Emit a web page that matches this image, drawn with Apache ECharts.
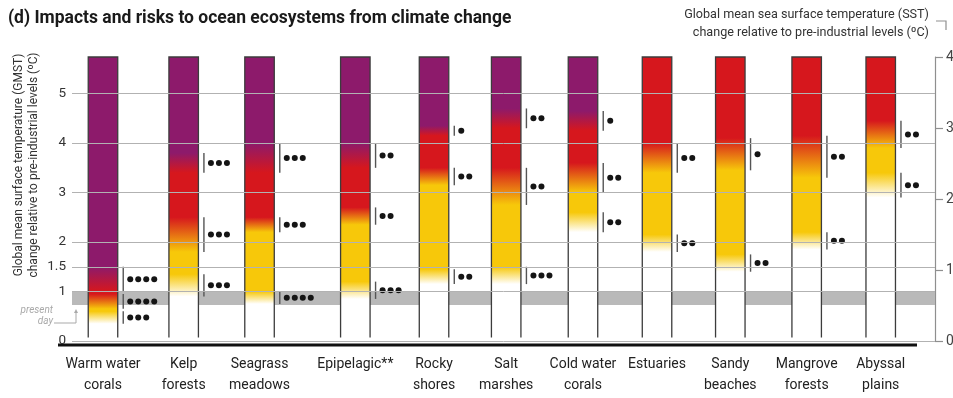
<!DOCTYPE html>
<html>
<head>
<meta charset="utf-8">
<script src="https://cdn.jsdelivr.net/npm/echarts@6/dist/echarts.min.js"></script>
<style>
  html, body { margin: 0; padding: 0; background: #ffffff; }
  #chart { width: 953px; height: 398px; }
</style>
</head>
<body>
<div id="chart"></div>
<script>
// Ocean ecosystems assessed
const ecosystems = ['Warm water\ncorals', 'Kelp\nforests', 'Seagrass\nmeadows', 'Epipelagic**', 'Rocky\nshores',
  'Salt\nmarshes', 'Cold water\ncorals', 'Estuaries', 'Sandy\nbeaches', 'Mangrove\nforests', 'Abyssal\nplains'];

// Risk transition ranges, GMST change in °C: [lower, upper]; null = no transition assessed
const undetectableToModerate = [[0.35, 0.6], [0.9, 1.35], [0.75, 1.0], [0.85, 1.2], [1.15, 1.45], [1.15, 1.5],
  [2.2, 2.6], [1.8, 2.15], [1.4, 1.75], [1.85, 2.2], [2.9, 3.4]];
const moderateToHigh = [[0.65, 0.95], [1.8, 2.5], [2.2, 2.5], [2.35, 2.7], [3.15, 3.5], [2.75, 3.5],
  [3.0, 3.6], [3.4, 4.0], [3.45, 4.1], [3.3, 4.15], [3.9, 4.45]];
const highToVeryHigh = [[1.0, 1.5], [3.4, 3.8], [3.4, 4.0], [3.5, 4.0], [4.15, 4.35], [4.3, 4.7],
  [4.25, 4.65], null, null, null, null];

// Confidence level of each transition (number of dots)
const confidenceUM = [3, 3, 4, 3, 2, 3, 2, 2, 2, 2, 2];
const confidenceMH = [4, 3, 3, 2, 2, 2, 2, 2, 1, 2, 2];
const confidenceHV = [4, 3, 3, 2, 1, 2, 1, null, null, null, null];

// Axes
const gmstTickLabels = [0, 1, 1.5, 2, 3, 4, 5];
const gmstGridLines = [0, 1, 1.5, 2, 3, 4, 5];
const sstTickLabels = [0, 1, 2, 3, 4];
const gmstMax = 5.74;               // 4 °C SST on the right-hand scale
const presentDay = [0.73, 1.0];     // grey present-day band

// Layout (not data): column centres along a 0–100 x scale, column size
const COLUMN_POS = [3.59, 12.94, 21.73, 32.83, 41.95, 50.31, 59.21, 67.79, 76.28, 85.13, 93.71];
const COLUMN_WIDTH = 29.5;
const COLUMN_BASE = 0.07;

const WHITE = '#ffffff', YELLOW = '#f7c80a', RED = '#d6171d', PURPLE = '#8d1a6b';
const FONT = 'Roboto, "Liberation Sans", sans-serif';

function columnGradient(i) {
  // value/colour pairs from the bottom of the column upward
  const pts = [[COLUMN_BASE, WHITE]];
  let top = WHITE;
  const steps = [[undetectableToModerate[i], WHITE, YELLOW], [moderateToHigh[i], YELLOW, RED], [highToVeryHigh[i], RED, PURPLE]];
  steps.forEach(([range, from, to]) => {
    if (!range) return;
    pts.push([range[0], from], [range[1], to]);
    top = to;
  });
  pts.push([gmstMax, top]);
  const span = gmstMax - COLUMN_BASE;
  const stops = pts.map(([v, c]) => ({ offset: Math.min(1, Math.max(0, (gmstMax - v) / span)), color: c }));
  stops.sort((a, b) => a.offset - b.offset);
  return { type: 'linear', x: 0, y: 0, x2: 0, y2: 1, colorStops: stops };
}

function renderColumn(params, api) {
  const i = api.value(1);
  const xc = api.coord([COLUMN_POS[i], 0])[0];
  const yTop = api.coord([COLUMN_POS[i], gmstMax])[1];
  const yBase = api.coord([COLUMN_POS[i], COLUMN_BASE])[1];
  const yZero = api.coord([COLUMN_POS[i], 0])[1];
  const l = xc - COLUMN_WIDTH / 2, r = xc + COLUMN_WIDTH / 2;
  const children = [
    { type: 'rect', shape: { x: l, y: yTop, width: COLUMN_WIDTH, height: yBase - yTop },
      style: { fill: columnGradient(i) } },
    { type: 'polyline', shape: { points: [[l, yBase], [l, yTop], [r, yTop], [r, yBase]] },
      style: { fill: null, stroke: '#3c3c3c', lineWidth: 1.3 } }
  ];
  const brackets = [[undetectableToModerate[i], confidenceUM[i]], [moderateToHigh[i], confidenceMH[i]], [highToVeryHigh[i], confidenceHV[i]]];
  brackets.forEach(([range, conf]) => {
    if (!range || !conf) return;
    const y1 = api.coord([COLUMN_POS[i], range[1]])[1];
    const y2 = api.coord([COLUMN_POS[i], range[0]])[1];
    const lx = r + 5.5;
    children.push({ type: 'line', shape: { x1: lx, y1: y1, x2: lx, y2: y2 },
      style: { stroke: '#555555', lineWidth: 1.4 } });
    for (let k = 0; k < conf; k++) {
      children.push({ type: 'circle', shape: { cx: lx + 7 + k * 8, cy: (y1 + y2) / 2, r: 3 },
        style: { fill: '#151515' } });
    }
  });
  children.push({ type: 'text', x: xc, y: yZero + 13,
    style: { text: ecosystems[i], fill: '#222222', font: '14px ' + FONT, align: 'center', verticalAlign: 'top', lineHeight: 21 } });
  return { type: 'group', children: children };
}

const chart = echarts.init(document.getElementById('chart'), null, { renderer: 'canvas' });

chart.setOption({
  animation: false,
  backgroundColor: '#ffffff',
  grid: { left: 72, right: 18, top: 57, bottom: 57, outerBoundsMode: 'none', containLabel: false },
  xAxis: { type: 'value', min: 0, max: 100, show: false },
  yAxis: [
    {
      type: 'value', min: 0, max: gmstMax, interval: 0.5,
      axisLine: { show: false }, axisTick: { show: false }, splitLine: { show: false },
      axisLabel: {
        color: '#333333', fontSize: 13.5, fontFamily: FONT, margin: 6, showMaxLabel: false,
        formatter: v => (gmstTickLabels.indexOf(Math.round(v * 100) / 100) >= 0 ? String(Math.round(v * 100) / 100) : '')
      }
    },
    {
      type: 'value', min: 0, max: 4, interval: 1, position: 'right',
      axisLine: { show: true, lineStyle: { color: '#8f8f8f', width: 1.2 } },
      axisTick: { show: true, length: 8, lineStyle: { color: '#8f8f8f', width: 1.2 } },
      splitLine: { show: false },
      axisLabel: { color: '#444444', fontSize: 14, fontFamily: FONT, margin: 11,
        formatter: v => (sstTickLabels.indexOf(v) >= 0 ? String(v) : '') }
    }
  ],
  series: [
    {
      type: 'line', data: [], yAxisIndex: 0, z: 1, silent: true,
      markLine: {
        silent: true, symbol: ['none', 'none'], label: { show: false },
        lineStyle: { color: '#b2b2b2', width: 1, type: 'solid' },
        data: gmstGridLines.map(v => ({ yAxis: v }))
      },
      markArea: {
        silent: true, itemStyle: { color: '#b9b9b9' },
        data: [[{ yAxis: presentDay[0] }, { yAxis: presentDay[1] }]]
      }
    },
    {
      type: 'custom', z: 3, clip: false, silent: true,
      renderItem: renderColumn,
      data: ecosystems.map((name, i) => [COLUMN_POS[i], i])
    }
  ],
  graphic: [
    { type: 'text', left: 8, top: 10,
      style: { text: '(d) Impacts and risks to ocean ecosystems from climate change', fill: '#1a1a1a',
        font: 'bold 17.5px ' + FONT } },
    { type: 'text', x: 929, y: 6,
      style: { text: 'Global mean sea surface temperature (SST)\nchange relative to pre-industrial levels (ºC)',
        fill: '#333333', font: '12.6px ' + FONT, align: 'right', verticalAlign: 'top', lineHeight: 18 } },
    { type: 'polyline', shape: { points: [[936, 21], [946, 21], [946, 30]] },
      style: { fill: null, stroke: '#8f8f8f', lineWidth: 1.2 } },
    { type: 'text', x: 26, y: 165, rotation: Math.PI / 2,
      style: { text: 'Global mean surface temperature (GMST)\nchange relative to pre-industrial levels (ºC)',
        fill: '#333333', font: '12px ' + FONT, align: 'center', verticalAlign: 'middle', lineHeight: 15 } },
    { type: 'line', shape: { x1: 58, y1: 345, x2: 917, y2: 345 },
      style: { stroke: '#111111', lineWidth: 3 } },
    { type: 'text', x: 53, y: 305,
      style: { text: 'present\nday', fill: '#a9a9a9', font: 'italic 10px ' + FONT, align: 'right', verticalAlign: 'top', lineHeight: 11 } },
    { type: 'polyline', shape: { points: [[54, 323], [76, 323], [76, 311]] },
      style: { fill: null, stroke: '#a9a9a9', lineWidth: 1 } },
    { type: 'polygon', shape: { points: [[74, 313], [78, 313], [76, 309]] },
      style: { fill: '#a9a9a9' } }
  ]
});
</script>
</body>
</html>
